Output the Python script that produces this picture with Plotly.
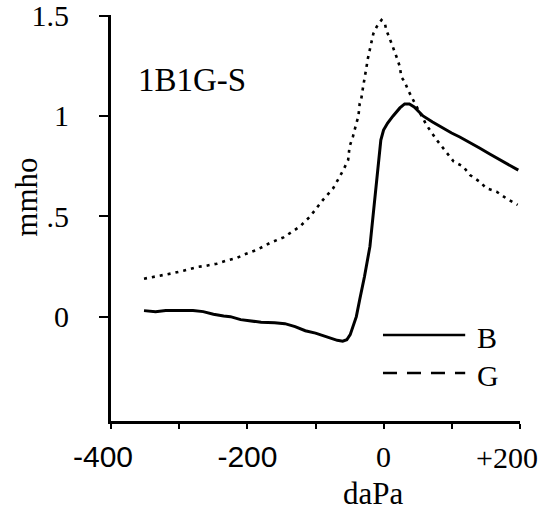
import plotly.graph_objects as go

# B (susceptance) curve, mmho vs daPa
b_x = [-352, -335, -320, -300, -280, -265, -250, -235, -225, -210, -195, -180, -160, -145,
       -130, -115, -100, -88, -78, -68, -60, -54, -49, -45, -40, -35, -28, -20, -14, -8, -4,
       0, 6, 14, 24, 31, 38, 45, 58, 72, 87, 100, 112, 126, 141, 156, 171, 185, 198]
b_y = [0.03, 0.025, 0.03, 0.03, 0.03, 0.025, 0.012, 0.003, 0.0, -0.015, -0.022, -0.028, -0.03, -0.035,
       -0.05, -0.07, -0.082, -0.095, -0.105, -0.118, -0.122, -0.115, -0.09, -0.05, 0.0, 0.085, 0.2, 0.35, 0.55,
       0.75, 0.88, 0.93, 0.965, 1.0, 1.04, 1.06, 1.06, 1.045, 1.0, 0.97, 0.94, 0.915, 0.895, 0.87,
       0.84, 0.81, 0.78, 0.755, 0.73]

# G (conductance) curve
g_x = [-352, -338, -323, -309, -294, -274, -260, -245, -230, -216, -206, -186, -167, -147,
       -123, -108, -89, -74, -59, -52, -50, -45, -40, -37, -35, -33, -30, -28, -25, -23, -20,
       -15, -10, -3, 2, 4, 9, 14, 19, 24, 26, 31, 36, 46, 56, 63, 78, 93, 103, 117, 127, 141,
       151, 166, 180, 197]
g_y = [0.189, 0.197, 0.209, 0.217, 0.229, 0.247, 0.254, 0.264, 0.28, 0.292, 0.308, 0.333, 0.367,
       0.395, 0.449, 0.499, 0.582, 0.64, 0.731, 0.781, 0.847, 0.897, 0.963, 0.997, 1.063, 1.08,
       1.146, 1.18, 1.245, 1.287, 1.337, 1.41, 1.445, 1.478, 1.46, 1.428, 1.386, 1.345, 1.295,
       1.245, 1.195, 1.17, 1.129, 1.063, 0.997, 0.955, 0.881, 0.814, 0.773, 0.748, 0.706, 0.673,
       0.64, 0.623, 0.59, 0.557]

SANS = "Liberation Sans, Arial, sans-serif"
x_tickvals = [-400, -300, -200, -100, 0, 100, 200]
x_ticktext = [f'<span style="font-family:{SANS}">-400\u00a0\u00a0</span>', "",
              f'<span style="font-family:{SANS}">-200</span>', "",
              "0", "", ""]
x_last_label = "+200"
y_tickvals = [0, 0.5, 1, 1.5]
y_ticktext = ["0", ".5", "1", "1.5"]

FONT = "Liberation Serif, Times New Roman, serif"
FS = 30

fig = go.Figure()
fig.add_trace(go.Scatter(x=b_x, y=b_y, mode="lines", name="B",
                         line=dict(color="black", width=3)))
fig.add_trace(go.Scatter(x=g_x, y=g_y, mode="lines", name="G",
                         line=dict(color="black", width=2.6, dash="3px,5px")))

fig.update_layout(
    width=548, height=512,
    margin=dict(l=111, r=28, t=15, b=91),
    paper_bgcolor="white", plot_bgcolor="white",
    showlegend=False,
    font=dict(family=FONT, size=FS, color="black"),
    xaxis=dict(range=[-400.5, 200.5], tickvals=x_tickvals, ticktext=x_ticktext,
               showline=True, linewidth=3, linecolor="black", showgrid=False, zeroline=False,
               ticks="outside", ticklen=5, tickwidth=2, tickcolor="black", automargin=False,
               ticklabelstandoff=2, ticklabeloverflow="allow", tickfont=dict(size=FS)),
    yaxis=dict(range=[-0.52, 1.503], tickvals=y_tickvals, ticktext=y_ticktext,
               showline=True, linewidth=3, linecolor="black", showgrid=False, zeroline=False,
               ticks="outside", ticklen=9, tickwidth=2, tickcolor="black", automargin=False,
               ticklabelstandoff=24, ticklabeloverflow="allow", tickfont=dict(size=FS)),
)

# last x tick label, nudged inward as in the original
fig.add_annotation(text=x_last_label, xref="x", yref="paper", x=200, y=0, yshift=-36,
                   xanchor="center", yanchor="middle", xshift=-13, showarrow=False,
                   font=dict(size=FS))

# axis titles
fig.add_annotation(text="daPa", xref="paper", yref="paper", x=0.643, y=-0.178, yanchor="middle",
                   xanchor="center", showarrow=False, font=dict(size=31))
fig.add_annotation(text="mmho", xref="paper", yref="paper", x=-0.206, y=0.552, textangle=-90,
                   xanchor="center", yanchor="middle", showarrow=False, font=dict(size=31))
# panel label
fig.add_annotation(text="1B1G-S", xref="paper", yref="paper", x=0.062, y=0.84,
                   xanchor="left", yanchor="middle", showarrow=False, font=dict(size=33))

# legend
fig.add_shape(type="line", xref="paper", yref="paper", x0=0.665, x1=0.866, y0=0.212, y1=0.212,
              line=dict(color="black", width=2.5))
fig.add_shape(type="line", xref="paper", yref="paper", x0=0.665, x1=0.866, y0=0.118, y1=0.118,
              line=dict(color="black", width=2.5, dash="14px,10px"))
fig.add_annotation(text="B", xref="paper", yref="paper", x=0.89, y=0.205, xanchor="left",
                   yanchor="middle", showarrow=False, font=dict(size=FS))
fig.add_annotation(text="G", xref="paper", yref="paper", x=0.89, y=0.111, xanchor="left",
                   yanchor="middle", showarrow=False, font=dict(size=FS))

fig.write_html("out.html")
